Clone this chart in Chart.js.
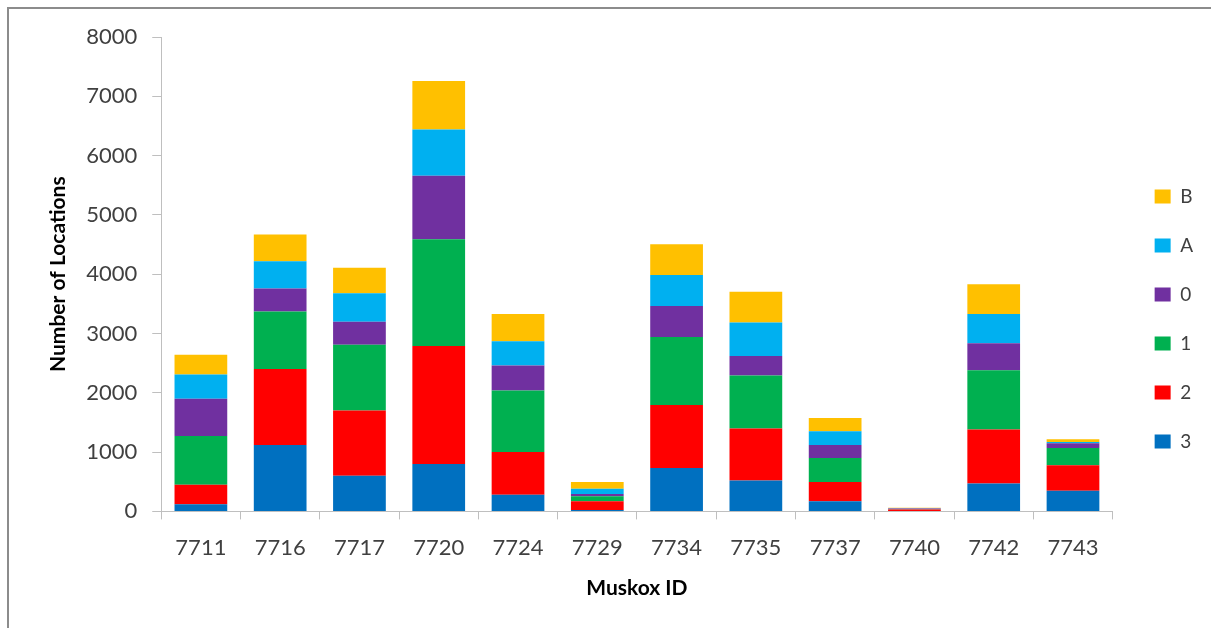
<!DOCTYPE html>
<html>
<head>
<meta charset="utf-8">
<style>
  html, body { margin: 0; padding: 0; background: #fff; }
  #wrap { width: 1211px; height: 628px; position: relative; }
</style>
<script src="https://cdn.jsdelivr.net/npm/chart.js@4/dist/chart.umd.min.js"></script>
</head>
<body>
<div id="wrap"><canvas id="chart" width="1211" height="628"></canvas></div>
<script>
(function () {
    "use strict";

    // muskox IDs along the x axis
    const muskoxIds = ["7711", "7716", "7717", "7720", "7724", "7729",
                       "7734", "7735", "7737", "7740", "7742", "7743"];

    // location counts per fix class (bottom -> top)
    const class3 = [120, 1120, 600, 800, 280, 25, 730, 520, 170, 5, 470, 350];
    const class2 = [330, 1280, 1100, 1990, 720, 145, 1065, 880, 325, 25, 910, 430];
    const class1 = [820, 970, 1110, 1800, 1040, 85, 1145, 890, 405, 5, 1000, 290];
    const class0 = [630, 390, 390, 1070, 420, 40, 525, 330, 220, 15, 455, 80];
    const classA = [410, 460, 480, 780, 410, 85, 520, 565, 230, 3, 495, 20];
    const classB = [330, 450, 430, 820, 460, 115, 520, 520, 225, 7, 500, 45];

    const yTicks = [0, 1000, 2000, 3000, 4000, 5000, 6000, 7000, 8000];

    const TEXT = "#404040";
    const AXIS = "#bfbfbf";
    const FONT = "Lato, 'Open Sans', sans-serif";

    const series = [
        { label: "3", data: class3, color: "#0070c0" },
        { label: "2", data: class2, color: "#ff0000" },
        { label: "1", data: class1, color: "#00b050" },
        { label: "0", data: class0, color: "#7030a0" },
        { label: "A", data: classA, color: "#00b0f0" },
        { label: "B", data: classB, color: "#ffc000" },
    ];

    // grey frame on top and left, as in the cropped source
    const frame = {
        id: "frame",
        afterDraw(chart) {
            const c = chart.ctx;
            c.save();
            c.strokeStyle = "#8c8c8c";
            c.lineWidth = 2;
            c.beginPath();
            c.moveTo(8, chart.height);
            c.lineTo(8, 8);
            c.lineTo(chart.width, 8);
            c.stroke();
            c.restore();
        },
    };

    new Chart(document.getElementById("chart").getContext("2d"), {
        type: "bar",
        data: {
            labels: muskoxIds,
            datasets: series.map(s => ({
                label: s.label,
                data: s.data,
                backgroundColor: s.color,
                borderWidth: 0,
                categoryPercentage: 0.665,
                barPercentage: 1.0,
            })),
        },
        options: {
            responsive: false,
            animation: false,
            layout: { padding: { left: 46, right: 8, top: 37, bottom: 27 } },
            plugins: {
                legend: {
                    position: "right",
                    reverse: true,
                    labels: {
                        color: TEXT,
                        font: { family: FONT, size: 19 },
                        boxWidth: 16,
                        boxHeight: 14,
                        padding: 30,
                    },
                },
                tooltip: { enabled: false },
            },
            scales: {
                x: {
                    stacked: true,
                    grid: { display: true, drawOnChartArea: false, drawTicks: true,
                        tickLength: 8, color: AXIS, offset: true },
                    border: { color: AXIS, width: 1 },
                    ticks: { color: TEXT, font: { family: FONT, size: 22 }, padding: 15 },
                    title: { display: true, text: "Muskox ID", color: "#000",
                        font: { family: FONT, size: 21, weight: "bold" },
                        padding: { top: 0, bottom: 0 } },
                },
                y: {
                    stacked: true,
                    min: 0, max: 8000,
                    afterBuildTicks: s => { s.ticks = yTicks.map(v => ({ value: v })); },
                    grid: { display: true, drawOnChartArea: false, drawTicks: true,
                        tickLength: 9, color: AXIS },
                    border: { color: AXIS, width: 1 },
                    ticks: { color: TEXT, font: { family: FONT, size: 22 }, padding: 15,
                        callback: v => String(v) },
                    title: { display: true, text: "Number of Locations", color: "#000",
                        font: { family: FONT, size: 21, weight: "bold" },
                        padding: { top: 0, bottom: 0 } },
                },
                // empty spacer between the plot and the legend
                gap: {
                    position: "right",
                    display: true,
                    grid: { display: false },
                    border: { display: false },
                    ticks: { display: false },
                    afterFit: s => { s.width = 12; },
                },
            },
        },
        plugins: [frame],
    });
})();
</script>
</body>
</html>
